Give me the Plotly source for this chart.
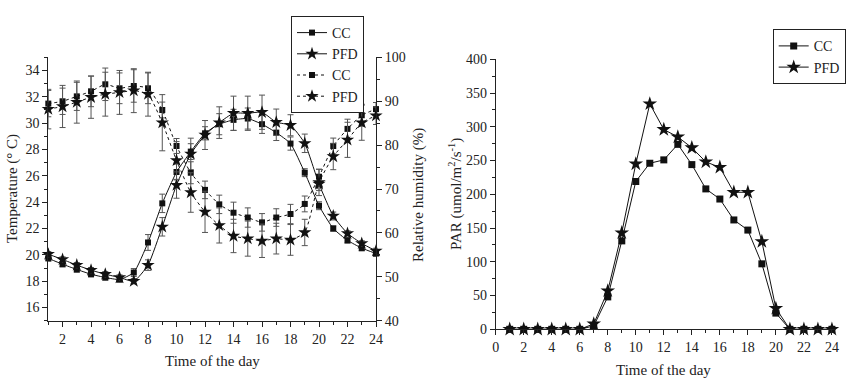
import plotly.graph_objects as go

hours = list(range(1, 25))

temp_cc = [19.73, 19.29, 18.89, 18.53, 18.28, 18.13, 18.66, 20.94, 23.91, 26.29, 27.84, 29.23,
           29.92, 30.25, 30.35, 29.92, 29.28, 28.45, 26.24, 23.73, 22.0, 21.1, 20.51, 20.1]
temp_pfd = [20.05, 19.65, 19.22, 18.84, 18.53, 18.28, 18.0, 19.22, 22.13, 25.3, 27.66, 29.1,
            30.04, 30.75, 30.75, 30.83, 30.07, 29.84, 28.47, 25.38, 22.95, 21.63, 20.87, 20.3]
temp_cc_err = [0.2, 0.2, 0.2, 0.2, 0.2, 0.2, 0.3, 0.6, 0.7, 0.6, 0.6, 0.5,
               0.8, 0.8, 0.8, 0.7, 0.6, 0.5, 0.3, 0.3, 0.2, 0.2, 0.2, 0.2]
temp_pfd_err = [0.2, 0.2, 0.2, 0.2, 0.2, 0.2, 0.2, 0.4, 0.7, 1.0, 1.2, 1.1,
                1.2, 1.3, 1.3, 1.3, 1.0, 0.8, 0.7, 0.5, 0.3, 0.2, 0.2, 0.2]

rh_cc = [89.45, 89.98, 91.1, 92.25, 93.85, 92.94, 93.47, 92.94, 88.0, 79.8, 73.7, 69.8,
         66.5, 64.6, 63.5, 62.4, 63.5, 64.3, 66.6, 72.8, 79.8, 83.7, 86.8, 88.2]
rh_pfd = [88.2, 88.8, 89.8, 90.9, 91.6, 92.0, 92.4, 91.6, 85.1, 76.5, 69.2, 64.8,
          61.7, 59.3, 58.7, 58.2, 58.7, 58.4, 60.1, 71.5, 77.4, 81.2, 85.1, 86.7]
rh_cc_err = [3.0, 3.0, 3.2, 3.5, 3.7, 3.5, 3.7, 3.5, 1.8, 1.7, 2.5, 2.0,
             2.1, 2.4, 2.2, 2.0, 2.0, 2.2, 1.8, 1.7, 1.8, 2.2, 2.5, 1.5]
rh_pfd_err = [4.5, 4.8, 4.8, 4.8, 5.0, 5.0, 5.0, 5.0, 6.4, 4.3, 4.5, 4.7,
              4.0, 3.8, 4.0, 3.8, 3.5, 3.5, 3.0, 3.0, 3.0, 4.0, 4.0, 2.0]

par_cc = [0, 0, 0, 0, 0, 0, 5, 48, 131, 219, 246, 251,
          274, 244, 208, 193, 162, 147, 97, 24, 0, 0, 0, 0]
par_pfd = [0, 0, 0, 0, 0, 0, 8, 57, 143, 245, 334, 296,
           285, 269, 248, 240, 203, 203, 130, 31, 0, 0, 0, 0]

FONT = "Liberation Serif"
BLACK = "#111111"
ERRC = "#555555"

def err(arr):
    return dict(type="data", array=arr, color=ERRC, thickness=1, width=3)

sq = dict(symbol="square", size=6, color=BLACK)
st = dict(symbol="star", size=10, color=BLACK)

fig = go.Figure()
fig.add_trace(go.Scatter(x=hours, y=temp_cc, name="CC", mode="lines+markers",
                         line=dict(color=BLACK, width=1, shape="spline", smoothing=0.5), marker=sq,
                         error_y=err(temp_cc_err), xaxis="x", yaxis="y", legend="legend",
                         cliponaxis=False))
fig.add_trace(go.Scatter(x=hours, y=temp_pfd, name="PFD", mode="lines+markers",
                         line=dict(color=BLACK, width=1, shape="spline", smoothing=0.5), marker=st,
                         error_y=err(temp_pfd_err), xaxis="x", yaxis="y", legend="legend",
                         cliponaxis=False))
fig.add_trace(go.Scatter(x=hours, y=rh_cc, name="CC", mode="lines+markers",
                         line=dict(color=BLACK, width=1, dash="3px,3px", shape="spline", smoothing=0.5),
                         marker=sq, error_y=err(rh_cc_err), xaxis="x", yaxis="y2",
                         legend="legend", cliponaxis=False))
fig.add_trace(go.Scatter(x=hours, y=rh_pfd, name="PFD", mode="lines+markers",
                         line=dict(color=BLACK, width=1, dash="3px,3px", shape="spline", smoothing=0.5),
                         marker=st, error_y=err(rh_pfd_err), xaxis="x", yaxis="y2",
                         legend="legend", cliponaxis=False))

fig.add_trace(go.Scatter(x=hours, y=par_cc, name="CC", mode="lines+markers",
                         line=dict(color=BLACK, width=1), marker=dict(symbol="square", size=7, color=BLACK),
                         xaxis="x2", yaxis="y3", legend="legend2", cliponaxis=False))
fig.add_trace(go.Scatter(x=hours, y=par_pfd, name="PFD", mode="lines+markers",
                         line=dict(color=BLACK, width=1), marker=dict(symbol="star", size=11, color=BLACK),
                         xaxis="x2", yaxis="y3", legend="legend2", cliponaxis=False))

H = 387.0
W = 850.0
def px(v):
    return v / W
def py(v):
    return 1 - v / H

def minor(vals):
    return dict(ticks="outside", ticklen=3, tickcolor="#222", tickvals=vals)

axcommon = dict(showline=True, linecolor="#222", linewidth=1, showgrid=False, zeroline=False,
                ticks="outside", ticklen=5, tickcolor="#222", automargin=False,
                tickfont=dict(family=FONT, size=14, color="#222"))

titlefont = dict(family=FONT, size=15, color="#222")
legfont = dict(family=FONT, size=14, color="#222")

def ann(text, x, y, angle=0):
    return dict(text=text, x=px(x), y=py(y), xref="paper", yref="paper", xanchor="center",
                yanchor="middle", textangle=angle, showarrow=False, font=titlefont)

fig.update_layout(
    width=850, height=387,
    margin=dict(l=0, r=0, t=0, b=0, autoexpand=False),
    paper_bgcolor="white", plot_bgcolor="white",
    showlegend=True,
    font=dict(family=FONT, size=14, color="#222"),
    xaxis=dict(axcommon, domain=[px(48.3), px(376)], range=[1, 24], tickvals=list(range(2, 25, 2)),
               minor=minor(list(range(1, 25, 2))), anchor="y"),
    yaxis=dict(axcommon, domain=[py(320.7), py(57.3)], range=[15, 35], tickvals=list(range(16, 35, 2)),
               minor=minor(list(range(15, 36, 2))), anchor="x"),
    yaxis2=dict(axcommon, overlaying="y", side="right", anchor="x", range=[40, 100],
                tickvals=list(range(40, 101, 10)), minor=minor(list(range(45, 100, 10)))),
    xaxis2=dict(axcommon, domain=[px(495.7), px(835)], range=[0, 24.22], tickvals=list(range(0, 25, 2)),
                minor=minor(list(range(1, 25, 2))), anchor="y3"),
    yaxis3=dict(axcommon, domain=[py(329.3), py(59.3)], range=[0, 400], tickvals=list(range(0, 401, 50)),
                minor=minor(list(range(25, 400, 50))), anchor="x2"),
    legend=dict(x=px(291), y=py(16), xanchor="left", yanchor="top", bgcolor="white",
                bordercolor="#222", borderwidth=1, font=legfont,
                tracegroupgap=0, itemwidth=30),
    legend2=dict(x=px(772.7), y=py(29.3), xanchor="left", yanchor="top", bgcolor="white",
                 bordercolor="#222", borderwidth=1, font=legfont,
                 tracegroupgap=0, itemwidth=30),
    annotations=[
        ann("Temperature (° C)", 12, 189, -90),
        ann("Relative humidity (%)", 418, 195, -90),
        ann("Time of the day", 212, 361),
        ann("Time of the day", 663, 370),
        ann("PAR (umol/m<sup>2</sup>/s<sup>-1</sup>)", 455, 194, -90),
    ],
)

fig.write_html("out.html", config={"displayModeBar": False},
               post_script="document.body.style.margin='0px';")
